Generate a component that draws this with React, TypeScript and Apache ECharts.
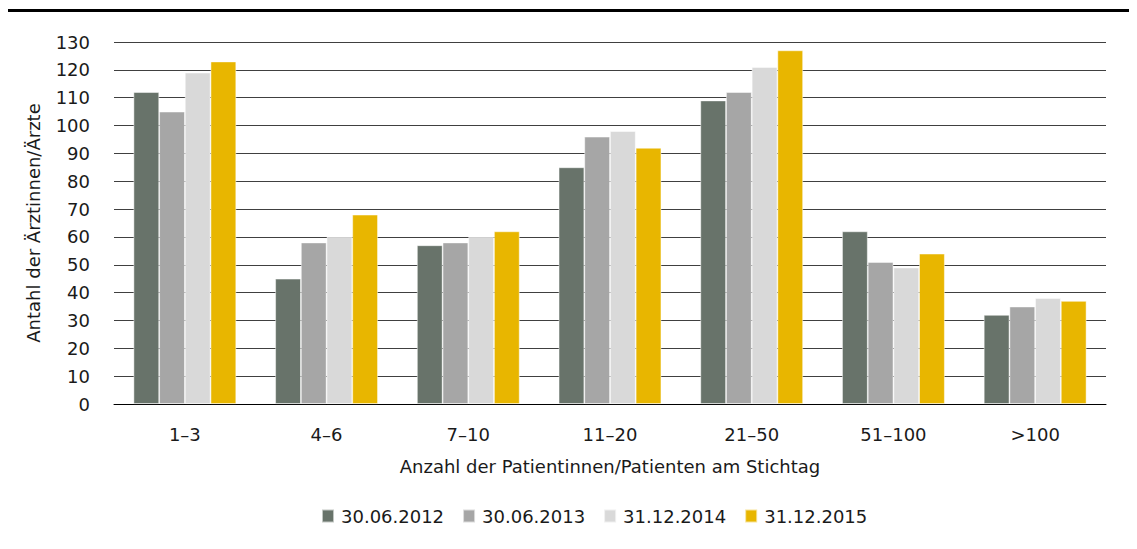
import React, { useEffect, useRef } from "react";
import * as echarts from "echarts";

const categories = ["1–3", "4–6", "7–10", "11–20", "21–50", "51–100", ">100"];
const seriesNames = ["30.06.2012", "30.06.2013", "31.12.2014", "31.12.2015"];
const s2012 = [112, 45, 57, 85, 109, 62, 32];
const s2013 = [105, 58, 58, 96, 112, 51, 35];
const s2014 = [119, 60, 60, 98, 121, 49, 38];
const s2015 = [123, 68, 62, 92, 127, 54, 37];
const colors = ["#68736a", "#a6a6a6", "#d9d9d9", "#e8b600"];
const yTicks = { min: 0, max: 130, interval: 10 };

const FONT = "DejaVu Sans";

export default function App() {
  const ref = useRef<HTMLDivElement>(null);
  useEffect(() => {
    if (!ref.current) return;
    const chart = echarts.init(ref.current, undefined, { renderer: "svg" });
    const data = [s2012, s2013, s2014, s2015];
    chart.setOption({
      animation: false,
      textStyle: { fontFamily: FONT },
      graphic: [
        {
          type: "rect",
          shape: { x: 5, y: 9, width: 1132, height: 3 },
          style: { fill: "#000" },
        },
      ],
      grid: { left: 114, right: 31, top: 42, bottom: 145 },
      legend: {
        left: 316,
        top: 502,
        itemWidth: 12,
        itemHeight: 13,
        itemGap: 18,
        icon: "rect",
        data: seriesNames,
        textStyle: { fontFamily: FONT, fontSize: 18, color: "#1a1a1a", padding: [0, 0, 0, 2] },
      },
      xAxis: {
        type: "category",
        data: categories,
        axisLine: { lineStyle: { color: "#000", width: 1 } },
        axisTick: { show: false },
        axisLabel: { fontFamily: FONT, fontSize: 18, color: "#1a1a1a", margin: 21 },
        name: "Anzahl der Patientinnen/Patienten am Stichtag",
        nameLocation: "middle",
        nameGap: 53,
        nameTextStyle: { fontFamily: FONT, fontSize: 18, color: "#1a1a1a" },
      },
      yAxis: {
        type: "value",
        min: yTicks.min,
        max: yTicks.max,
        interval: yTicks.interval,
        axisLine: { show: false },
        axisTick: { show: false },
        splitLine: { lineStyle: { color: "#404040", width: 1 } },
        axisLabel: { fontFamily: FONT, fontSize: 18, color: "#1a1a1a", margin: 24 },
        name: "Antahl der Ärztinnen/Ärzte",
        nameLocation: "middle",
        nameGap: 72,
        nameRotate: 90,
        nameTextStyle: { fontFamily: FONT, fontSize: 18, color: "#1a1a1a" },
      },
      series: seriesNames.map((n, i) => ({
        name: n,
        type: "bar",
        data: data[i],
        barGap: "0%",
        barCategoryGap: "27.5%",
        itemStyle: { color: colors[i], borderColor: "rgba(255,255,255,0.6)", borderWidth: 0.8 },
      })),
    });
    return () => chart.dispose();
  }, []);
  return <div ref={ref} style={{ width: 1137, height: 549, margin: -8 }} />;
}
